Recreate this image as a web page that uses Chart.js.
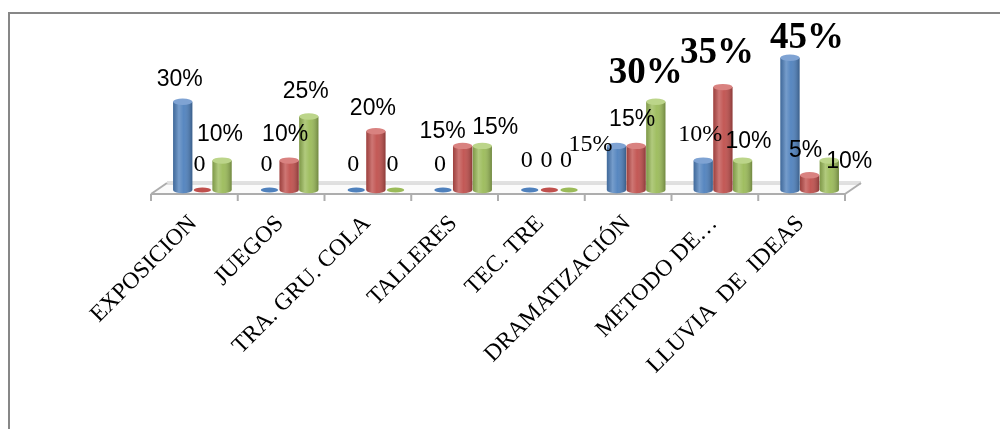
<!DOCTYPE html>
<html>
<head>
<meta charset="utf-8">
<script src="https://cdn.jsdelivr.net/npm/chart.js@4.4.0/dist/chart.umd.min.js"></script>
<style>
html,body{margin:0;padding:0;background:#fff;}
#wrap{width:1000px;height:429px;position:relative;}
</style>
</head>
<body>
<div id="wrap"><canvas id="c" width="1000" height="429"></canvas></div>
<script>
// ---- data ----
const categories = ["EXPOSICION", "JUEGOS", "TRA. GRU. COLA", "TALLERES", "TEC. TRE", "DRAMATIZACIÓN", "METODO DE…", "LLUVIA  DE  IDEAS"];
const serie1 = [30, 0, 0, 0, 0, 15, 10, 45];
const serie2 = [0, 10, 20, 15, 0, 15, 35, 5];
const serie3 = [10, 25, 0, 15, 0, 30, 10, 10];
const seriesNames = ["Serie 1", "Serie 2", "Serie 3"];

// ---- styles ----
const colors = ["#4F81BD", "#C0504D", "#9BBB59"];
const topColors = ["#7FA3D3", "#D98280", "#BCD58A"];
// label font kind per series / category: s = sans, r = serif, b = big bold serif
const labelKinds = [
  ["s", "r", "r", "r", "r", "r", "r", "b"],
  ["r", "s", "s", "s", "r", "s", "b", "s"],
  ["s", "s", "r", "s", "r", "b", "s", "s"]
];
const labelDefaultOffset = [-3, -25];
const labelOffsets = {
  "0,0": [-3, -22], "0,4": [-3, -29], "0,5": [-26, -1], "0,6": [-3, -26], "0,7": [17, -19],
  "1,2": [-3, -23], "1,3": [-20, -14], "1,4": [-3, -29], "1,1": [-4, -26], "1,5": [-4, -26], "1,6": [-6, -34], "1,7": [-4, -25],
  "2,0": [-2, -26], "2,3": [13, -18], "2,4": [-3, -29], "2,5": [-10, -28], "2,6": [6, -19], "2,7": [20, 1]
};
const labelFonts = {
  s: "23px 'Liberation Sans', Arial, sans-serif",
  r: "24px 'Liberation Serif', 'Times New Roman', serif",
  b: "bold 37px 'Liberation Serif', 'Times New Roman', serif"
};

function fmt(v) { return v === 0 ? "0" : v + "%"; }

const decor = {
  id: "decor",
  beforeDraw(chart) {
    const ctx = chart.ctx;
    ctx.save();
    ctx.fillStyle = "#fff";
    ctx.fillRect(0, 0, chart.width, chart.height);
    ctx.strokeStyle = "#878787";
    ctx.lineWidth = 2;
    ctx.strokeRect(9, 13, 1010, 440);
    ctx.restore();
  },
  beforeDatasetsDraw(chart) {
    const ctx = chart.ctx;
    const ca = chart.chartArea;
    const base = chart.scales.y.getPixelForValue(0);
    const step = (ca.right - ca.left) / categories.length;
    const fl = ca.left - 8, fr = ca.right - 8, fy = base + 4;
    const bl = ca.left + 8, br = ca.right + 8, by = base - 7;
    ctx.save();
    ctx.beginPath();
    ctx.moveTo(fl, fy); ctx.lineTo(fr, fy); ctx.lineTo(br, by); ctx.lineTo(bl, by); ctx.closePath();
    ctx.fillStyle = "#fbfbfb";
    ctx.fill();
    ctx.strokeStyle = "#c4c4c4";
    ctx.lineWidth = 1.2;
    ctx.beginPath(); ctx.moveTo(bl, by - 1); ctx.lineTo(br, by - 1); ctx.stroke();
    ctx.beginPath(); ctx.moveTo(bl, by + 1); ctx.lineTo(br, by + 1); ctx.stroke();
    ctx.strokeStyle = "#adadad";
    ctx.lineWidth = 2;
    ctx.beginPath(); ctx.moveTo(fl, fy); ctx.lineTo(fr, fy); ctx.stroke();
    ctx.beginPath(); ctx.moveTo(fl, fy); ctx.lineTo(bl, by); ctx.stroke();
    ctx.beginPath(); ctx.moveTo(fr, fy); ctx.lineTo(br, by); ctx.stroke();
    for (let k = 0; k <= categories.length; k++) {
      const x = ca.left - 8 + k * step;
      ctx.beginPath(); ctx.moveTo(x, fy); ctx.lineTo(x, fy + 7); ctx.stroke();
    }
    ctx.restore();
  },
  afterDatasetsDraw(chart) {
    const ctx = chart.ctx;
    const base = chart.scales.y.getPixelForValue(0);
    ctx.save();
    chart.data.datasets.forEach((ds, i) => {
      const meta = chart.getDatasetMeta(i);
      meta.data.forEach((el, j) => {
        const w = el.width, x = el.x, top = el.y;
        const rx = w / 2, ry = 3.2;
        const g = ctx.createLinearGradient(x - rx, 0, x + rx, 0);
        g.addColorStop(0, "rgba(0,0,0,0.18)");
        g.addColorStop(0.3, "rgba(255,255,255,0.22)");
        g.addColorStop(0.55, "rgba(255,255,255,0.05)");
        g.addColorStop(1, "rgba(0,0,0,0.28)");
        if (ds.data[j] > 0) {
          ctx.beginPath();
          ctx.ellipse(x, base, rx, ry, 0, 0, Math.PI);
          ctx.fillStyle = colors[i];
          ctx.fill();
          ctx.beginPath();
          ctx.moveTo(x - rx, top);
          ctx.lineTo(x - rx, base);
          ctx.ellipse(x, base, rx, ry, 0, Math.PI, 0, true);
          ctx.lineTo(x + rx, top);
          ctx.closePath();
          ctx.fillStyle = g;
          ctx.fill();
          ctx.beginPath();
          ctx.ellipse(x, top, rx, ry, 0, 0, Math.PI * 2);
          ctx.fillStyle = topColors[i];
          ctx.fill();
        } else {
          ctx.beginPath();
          ctx.ellipse(x, base, rx - 1, 2.6, 0, 0, Math.PI * 2);
          ctx.fillStyle = colors[i];
          ctx.fill();
        }
      });
    });
    ctx.fillStyle = "#000";
    ctx.textAlign = "center";
    ctx.textBaseline = "middle";
    chart.data.datasets.forEach((ds, i) => {
      const meta = chart.getDatasetMeta(i);
      meta.data.forEach((el, j) => {
        const off = labelOffsets[i + "," + j] || labelDefaultOffset;
        ctx.font = labelFonts[labelKinds[i][j]];
        ctx.fillText(fmt(ds.data[j]), el.x + off[0], el.y + off[1]);
      });
    });
    ctx.restore();
  }
};

const seriesData = [serie1, serie2, serie3];
new Chart(document.getElementById("c"), {
  type: "bar",
  data: {
    labels: categories,
    datasets: seriesData.map((d, i) => ({
      label: seriesNames[i],
      data: d,
      backgroundColor: colors[i],
      borderWidth: 0,
      categoryPercentage: 0.68,
      barPercentage: 0.98
    }))
  },
  options: {
    responsive: false,
    devicePixelRatio: 1,
    animation: false,
    layout: { padding: { left: 159, right: 147, top: 43, bottom: 0 } },
    plugins: { legend: { display: false }, tooltip: { enabled: false } },
    scales: {
      y: { display: false, min: 0, max: 50 },
      x: {
        grid: { display: false, drawTicks: false },
        border: { display: false },
        afterFit(s) { s.height = 239; },
        ticks: {
          autoSkip: false,
          maxRotation: 45,
          minRotation: 45,
          padding: 20,
          labelOffset: -9,
          color: "#000",
          font: { family: "'Liberation Serif', 'Times New Roman', serif", size: 23.5 }
        }
      }
    }
  },
  plugins: [decor]
});
</script>
</body>
</html>
